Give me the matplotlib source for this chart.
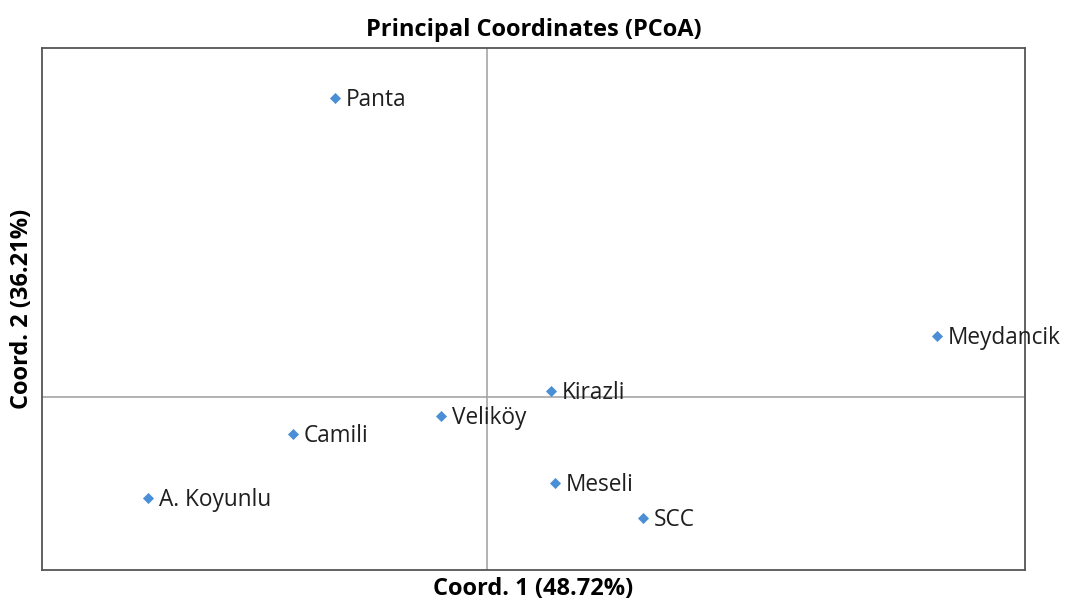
import matplotlib
matplotlib.use("Agg")
import matplotlib.pyplot as plt

names = ["Panta", "Meydancik", "Kirazli", "Veliköy", "Camili", "A. Koyunlu", "Meseli", "SCC"]
coord1 = [-0.152, 0.450, 0.064, -0.046, -0.194, -0.339, 0.068, 0.156]
coord2 = [0.299, 0.061, 0.006, -0.019, -0.037, -0.101, -0.086, -0.121]

plt.rcParams['font.family'] = ['Open Sans', 'DejaVu Sans']

fig = plt.figure(figsize=(10.65, 6.03), dpi=100)
ax = fig.add_axes([42/1065, 33/603, 983/1065, 522/603])

ax.axhline(0, color='#a6a6a6', lw=1.2, zorder=1)
ax.axvline(0, color='#a6a6a6', lw=1.2, zorder=1)
ax.scatter(coord1, coord2, marker='D', s=32, color='#4a8fd6', zorder=3, linewidths=0)
for n, x, y in zip(names, coord1, coord2):
    ax.annotate(n, (x, y), xytext=(8, -1.5), textcoords='offset points',
                va='center', ha='left', fontsize=16.3, color='#1f1f1f',
                annotation_clip=False, clip_on=False)

ax.set_xlim(-0.445, 0.538)
ax.set_ylim(-0.173, 0.349)
ax.set_xticks([])
ax.set_yticks([])
for s in ax.spines.values():
    s.set_color('#555555')
    s.set_linewidth(1.3)

ax.set_title("Principal Coordinates (PCoA)", fontsize=17, fontweight='bold', pad=9)
ax.set_xlabel("Coord. 1 (48.72%)", fontsize=17, fontweight='bold', labelpad=5)
ax.set_ylabel("Coord. 2 (36.21%)", fontsize=17, fontweight='bold', labelpad=6)

fig.savefig("out.png", dpi=100)
